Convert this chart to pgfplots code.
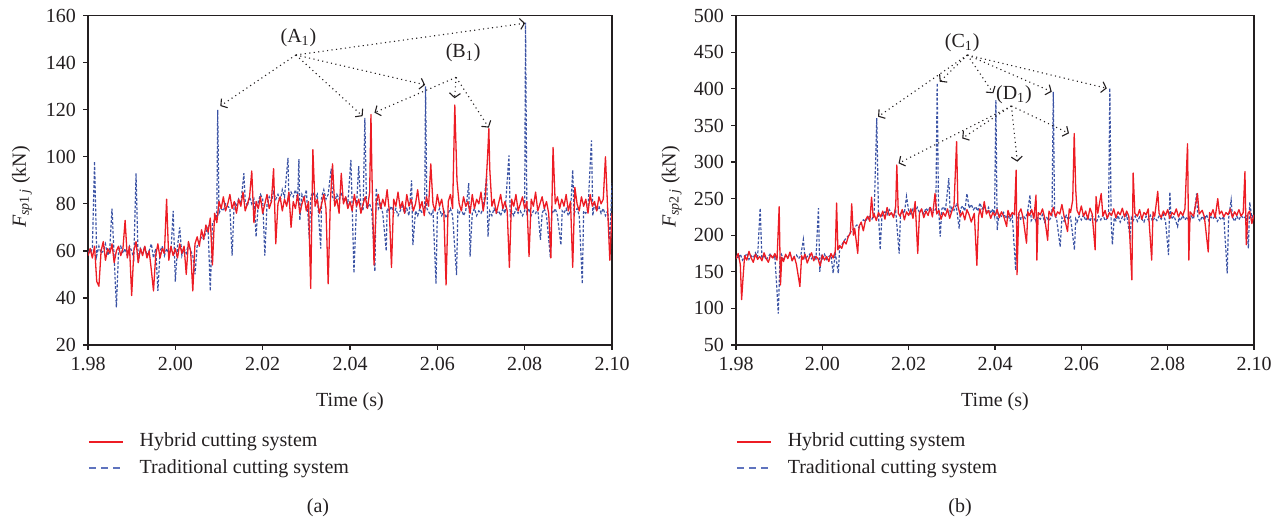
\documentclass[border=0pt]{standalone}
\usepackage{fontspec}
\setmainfont{Liberation Serif}
\usepackage{pgfplots}
\usepackage{pgfplotstable}
\pgfplotsset{compat=1.18}
\usetikzlibrary{arrows.meta}
\definecolor{hyb}{RGB}{237,28,36}
\definecolor{tra}{RGB}{59,83,164}
\definecolor{tralight}{RGB}{95,115,190}
\definecolor{ink}{RGB}{35,31,32}

\pgfplotstableread[row sep=\\]{
t f\\
1980 58\\1980.5 61\\1981 57\\1981.5 62\\1982 47\\1982.5 45\\1983 60\\1983.5 64\\1984 56\\1984.5 61\\
1985 59\\1985.5 63\\1986 55\\1986.5 60\\1987 62\\1987.5 58\\1988 61\\1988.5 73\\1989 57\\1989.5 62\\
1990 41\\1990.5 60\\1991 64\\1991.5 55\\1992 61\\1992.5 58\\1993 62\\1993.5 57\\1994 60\\1994.5 52\\
1995 43\\1995.5 58\\1996 63\\1996.5 57\\1997 61\\1997.5 59\\1998 82\\1998.5 56\\1999 62\\1999.5 58\\
2000 61\\2000.5 57\\2001 63\\2001.5 59\\2002 62\\2002.5 50\\2003 64\\2003.5 60\\2004 43\\2004.5 63\\
2005 66\\2005.5 62\\2006 69\\2006.5 65\\2007 71\\2007.5 68\\2008 74\\2008.5 54\\2009 76\\2009.5 72\\
2010 81\\2010.5 78\\2011 83\\2011.5 77\\2012 80\\2012.5 84\\2013 78\\2013.5 81\\2014 76\\2014.5 82\\
2015 79\\2015.5 85\\2016 77\\2016.5 80\\2017 83\\2017.5 94\\2018 72\\2018.5 81\\2019 78\\2019.5 83\\
2020 76\\2020.5 80\\2021 84\\2021.5 78\\2022 81\\2022.5 95\\2023 63\\2023.5 80\\2024 83\\2024.5 77\\
2025 82\\2025.5 79\\2026 85\\2026.5 70\\2027 81\\2027.5 78\\2028 84\\2028.5 76\\2029 80\\2029.5 83\\
2030 77\\2030.5 81\\2031 44\\2031.5 103\\2032 79\\2032.5 82\\2033 76\\2033.5 80\\2034 84\\2034.5 78\\
2035 46\\2035.5 81\\2036 97\\2036.5 79\\2037 82\\2037.5 76\\2038 93\\2038.5 80\\2039 83\\2039.5 78\\
2040 81\\2040.5 77\\2041 84\\2041.5 79\\2042 82\\2042.5 76\\2043 80\\2043.5 83\\2044 78\\2044.5 85\\
2044.8 118\\2045 95\\2045.5 54\\2046 81\\2046.5 84\\2047 78\\2047.5 82\\2048 79\\2048.5 86\\2049 77\\2049.5 53\\
2050 82\\2050.5 79\\2051 85\\2051.5 78\\2052 81\\2052.5 76\\2053 84\\2053.5 79\\2054 82\\2054.5 77\\
2055 80\\2055.5 86\\2056 78\\2056.5 81\\2057 75\\2057.5 83\\2058 79\\2058.5 97\\2059 80\\2059.5 77\\
2060 84\\2060.5 79\\2061 82\\2061.5 76\\2062 45.5\\2062.5 81\\2063 84\\2063.5 78\\2064 122\\2064.5 90\\
2065 80\\2065.5 77\\2066 83\\2066.5 79\\2067 81\\2067.5 76\\2068 84\\2068.5 78\\2069 82\\2069.5 80\\
2070 85\\2070.5 77\\2071 83\\2071.5 100\\2071.8 112\\2072 95\\2072.5 79\\2073 82\\2073.5 76\\2074 80\\2074.5 84\\
2075 78\\2075.5 81\\2076 77\\2076.5 53\\2077 82\\2077.5 79\\2078 84\\2078.5 77\\2079 80\\2079.5 83\\
2080 78\\2080.5 81\\2081 57.6\\2081.5 82\\2082 79\\2082.5 85\\2083 77\\2083.5 80\\2084 83\\2084.5 78\\
2085 81\\2085.5 76\\2086 57\\2086.5 104\\2087 80\\2087.5 83\\2088 78\\2088.5 82\\2089 79\\2089.5 84\\
2090 77\\2090.5 81\\2091 53\\2091.5 87\\2092 80\\2092.5 77\\2093 83\\2093.5 79\\2094 82\\2094.5 76\\
2095 84\\2095.5 79\\2096 81\\2096.5 77\\2097 83\\2097.5 80\\2098 82\\2098.5 100\\2099 78\\2099.5 56\\2100 76\\
}\LH

\pgfplotstableread[row sep=\\]{
t f\\
1980 60\\1980.5 59\\1981 61\\1981.5 98\\1982 58\\1982.5 62\\1983 59\\1983.5 60\\1984 63\\1984.5 58\\
1985 61\\1985.5 78\\1986 57\\1986.5 36\\1987 60\\1987.5 62\\1988 59\\1988.5 61\\1989 58\\1989.5 62\\
1990 60\\1990.5 57\\1991 93\\1991.5 55\\1992 61\\1992.5 59\\1993 62\\1993.5 58\\1994 60\\1994.5 63\\
1995 57\\1995.5 61\\1996 43\\1996.5 60\\1997 62\\1997.5 58\\1998 61\\1998.5 59\\1999 60\\1999.5 77\\
2000 47\\2000.5 62\\2001 70\\2001.5 58\\2002 61\\2002.5 59\\2003 63\\2003.5 60\\2004 58\\2004.5 50\\
2005 62\\2005.5 64\\2006 66\\2006.5 65\\2007 68\\2007.5 70\\2008 43\\2008.5 72\\2009 73\\2009.5 75\\
2009.7 120\\2010 76\\2010.5 78\\2011 77\\2011.5 80\\2012 79\\2012.5 78\\2013 58\\2013.5 81\\2014 79\\2014.5 82\\
2015 80\\2015.7 93\\2016 81\\2016.5 79\\2017 83\\2017.5 80\\2018 82\\2018.5 66\\2019 81\\2019.5 84\\
2020 82\\2020.5 58\\2021 80\\2021.5 83\\2022 81\\2022.5 85\\2023 82\\2023.5 84\\2024 81\\2024.5 86\\
2025 83\\2025.8 99.5\\2026 82\\2026.5 85\\2027 83\\2027.5 86\\2028 82\\2028.3 99\\2028.5 73\\2029 84\\2029.5 82\\
2030 86\\2030.7 65\\2031 83\\2031.5 85\\2032 82\\2032.5 84\\2033.3 61\\2033.5 83\\2034 86\\2034.5 82\\
2035 84\\2035.7 95\\2036 83\\2036.5 81\\2037 84\\2037.5 82\\2038 85\\2038.5 81\\2039 83\\2039.5 80\\
2040.2 98.7\\2040.5 79\\2040.9 50.6\\2041.5 80\\2042 96\\2042.5 79\\2043 77\\2043.4 116.5\\2043.8 78\\2044.5 80\\
2045 77\\2045.7 51.3\\2046 86.7\\2046.5 78\\2047 80\\2047.5 76\\2048.3 60\\2048.5 78\\2049 77\\2049.5 79\\
2050 76\\2050.5 78\\2051 75\\2051.5 77\\2052 79\\2052.5 76\\2053 78\\2053.5 75\\2054.1 90\\2054.4 62.5\\
2055 77\\2055.5 75\\2056 78\\2056.5 76\\2057.1 77\\2057.3 130\\2057.6 78\\2058.5 75\\2059 77\\2059.7 46\\
2060 76\\2060.5 78\\2061 75\\2061.5 77\\2062 74\\2062.5 76\\2063 78\\2063.5 75\\2064.4 49.7\\2064.7 77\\
2065 76\\2065.5 78\\2066 75\\2066.5 77\\2067.2 88.8\\2067.5 57.6\\2068 76\\2068.5 78\\2069 75\\2069.5 77\\
2070 76\\2070.5 78\\2071.3 92\\2071.6 66\\2072 77\\2072.5 75\\2073 78\\2073.5 76\\2074 77\\2074.5 75\\
2075 78\\2075.5 76\\2076.4 100.6\\2076.7 74\\2077 77\\2077.5 75\\2078 78\\2078.5 76\\2079 77\\2079.5 75\\
2080 77\\2080.2 157\\2080.5 76\\2081 78\\2081.5 75\\2082 77\\2082.5 76\\2083 78\\2083.6 64.7\\2084 76\\2084.5 78\\
2085 75\\2085.9 57\\2086.2 77\\2086.5 76\\2087 78\\2087.5 75\\2088.3 62.5\\2088.6 77\\2089 76\\2089.5 78\\
2090 75\\2090.5 77\\2091 94.4\\2091.3 76\\2092 78\\2092.5 75\\2093.2 46\\2093.5 77\\2094 76\\2094.5 78\\
2095.3 107\\2095.6 75\\2096 80\\2096.5 77\\2097 79\\2097.5 76\\2098 78\\2098.5 75\\2099 77\\2099.5 64.7\\2100 88.8\\
}\LT

\pgfplotstableread[row sep=\\]{
t f\\
1980 168\\1980.5 175\\1981 160\\1981.3 112\\1981.7 148\\1982 172\\1982.5 166\\1983 178\\1983.5 169\\1984 163\\1984.5 174\\
1985 167\\1985.5 171\\1986 165\\1986.5 176\\1987 168\\1987.5 163\\1988 173\\1988.5 169\\1989 175\\1989.5 166\\
1990 239\\1990.3 132\\1990.6 170\\1991 164\\1991.5 174\\1992 168\\1992.5 177\\1993 165\\1993.5 171\\1994 160\\
1994.8 130\\1995.2 172\\1995.5 167\\1996 174\\1996.5 162\\1997 170\\1997.5 176\\1998 165\\1998.5 171\\1999 168\\1999.5 158\\
2000 173\\2000.5 166\\2001 171\\2001.5 164\\2002 175\\2002.5 169\\2003 178\\2003.3 244\\2003.6 180\\2004 186\\2004.5 182\\
2005 192\\2005.5 188\\2006 198\\2006.5 203\\2006.8 243\\2007.2 200\\2007.5 209\\2008.2 175\\2008.5 212\\2009 218\\2009.5 206\\
2010 221\\2010.5 226\\2011 219\\2011.4 252\\2011.8 224\\2012 229\\2012.5 220\\2013 231\\2013.5 225\\2014 233\\2014.5 222\\
2015 238\\2015.5 227\\2016 231\\2016.5 224\\2017 240\\2017.25 296\\2017.6 230\\2018 226\\2018.5 235\\2019 221\\2019.5 232\\
2020 227\\2020.5 236\\2021 223\\2021.5 246\\2022.1 175\\2022.5 230\\2023 236\\2023.5 224\\2024 233\\2024.5 227\\
2025 238\\2025.5 225\\2026.1 257\\2026.5 229\\2027 234\\2027.5 222\\2028 231\\2028.5 226\\2029 236\\2029.5 223\\
2030 233\\2030.5 240\\2031.1 328\\2031.4 240\\2032 226\\2032.5 232\\2033 221\\2033.5 235\\2034 228\\2034.5 218\\
2035.2 230\\2035.8 159\\2036.2 226\\2036.5 236\\2037 224\\2037.5 246\\2038 229\\2038.5 234\\2039 223\\2039.5 231\\
2040 227\\2040.5 235\\2041 224\\2041.5 232\\2042 226\\2042.7 212\\2043 234\\2043.5 225\\2044 231\\2044.5 228\\
2044.9 289\\2045.1 146\\2045.5 230\\2046 236\\2046.5 224\\2047.3 189\\2047.6 232\\2048 227\\2048.5 235\\2049 223\\2049.5 255\\
2049.7 166\\2050 231\\2050.5 228\\2051 236\\2051.5 224\\2052.2 193\\2052.5 233\\2053 227\\2053.5 238\\2054 225\\2054.5 232\\
2055 229\\2055.5 242\\2056 226\\2056.8 205\\2057.2 236\\2057.5 231\\2058 248\\2058.35 339\\2058.7 262\\2059 234\\2059.5 228\\
2060 240\\2060.5 226\\2061 233\\2061.5 222\\2062 237\\2062.5 229\\2063.2 180\\2063.4 253\\2063.8 230\\2064.6 257\\
2065 226\\2065.5 234\\2066 223\\2066.5 231\\2067 227\\2067.5 236\\2068 224\\2068.5 232\\2069 228\\2069.5 237\\
2070 225\\2070.5 233\\2071 226\\2071.7 139\\2072 285\\2072.4 230\\2073 226\\2073.5 235\\2074 222\\2074.5 231\\
2075 228\\2075.5 236\\2076.3 166\\2076.6 232\\2077 226\\2077.7 260\\2078 230\\2078.5 224\\2079 233\\2079.5 227\\
2080 235\\2080.5 223\\2081 231\\2081.5 228\\2082 236\\2082.5 225\\2083 232\\2083.5 227\\2084 236\\2084.6 325\\
2084.9 166\\2085.2 232\\2086 226\\2086.9 257\\2087.3 229\\2088 234\\2088.5 225\\2089.4 177\\2089.7 231\\
2090 227\\2090.5 235\\2091 224\\2091.6 250\\2092 229\\2092.5 233\\2093 225\\2093.5 231\\2094 228\\2094.5 236\\
2095 224\\2095.5 232\\2096 227\\2096.5 235\\2097 226\\2097.5 231\\2097.9 287\\2098.2 187\\2098.6 230\\2099 233\\2099.5 216\\2100 228\\
}\RH

\pgfplotstableread[row sep=\\]{
t f\\
1980 172\\1980.5 168\\1981 174\\1981.5 166\\1982 171\\1982.5 175\\1983 167\\1983.5 172\\1984 169\\1984.5 176\\
1985 170\\1985.6 237\\1986 168\\1986.5 173\\1987 166\\1987.5 171\\1988 175\\1988.5 168\\1989 172\\1989.8 93\\
1990.2 170\\1990.5 174\\1991 167\\1991.5 172\\1992 169\\1992.5 175\\1993 166\\1993.5 171\\1994 173\\1994.5 168\\
1995 172\\1995.6 194\\1996 167\\1996.5 171\\1997 174\\1997.5 168\\1998 172\\1998.5 166\\1999.1 237\\1999.4 150\\1999.8 171\\
2000 168\\2000.5 174\\2001 167\\2001.5 171\\2002 173\\2002.5 148\\2003 176\\2003.7 148\\2004 183\\2004.5 187\\
2005 192\\2005.5 196\\2006 199\\2006.5 204\\2007 207\\2007.5 211\\2008 214\\2008.5 210\\2009 217\\2009.5 221\\
2010 219\\2010.5 224\\2011 226\\2011.5 222\\2012 229\\2012.6 360\\2013 231\\2013.4 180\\2013.8 226\\2014.5 232\\
2015 228\\2015.5 235\\2016 230\\2016.5 226\\2017 233\\2017.8 175\\2018.1 228\\2018.5 234\\2019 230\\2019.5 253\\
2020 233\\2020.5 229\\2021 236\\2021.5 232\\2022 238\\2022.5 231\\2023 235\\2023.5 229\\2024 237\\2024.5 233\\
2025 239\\2025.5 230\\2026.3 236\\2026.6 408\\2026.9 240\\2027.3 198\\2027.7 236\\2028 239\\2028.5 233\\2029.3 278\\2029.6 232\\
2030 238\\2030.5 234\\2031 241\\2031.7 209\\2032 236\\2032.5 240\\2033 233\\2033.5 257\\2034 237\\2034.5 242\\
2035 235\\2035.5 239\\2036 233\\2036.5 244\\2037 236\\2037.5 240\\2038 232\\2038.5 238\\2039 230\\2039.5 236\\
2039.9 226\\2040.2 385\\2040.5 207\\2040.9 230\\2041.5 226\\2042 231\\2042.5 223\\2043 228\\2043.5 220\\2044 226\\
2044.8 152\\2045.1 224\\2045.5 229\\2046 221\\2046.5 227\\2047 223\\2047.5 230\\2048.1 255\\2048.4 220\\2049 226\\2049.5 219\\
2050 225\\2050.5 222\\2051 228\\2051.5 218\\2052 224\\2052.5 220\\2053.2 226\\2053.5 396\\2053.8 230\\2054.3 221\\
2055.1 184\\2055.5 224\\2056 219\\2056.5 227\\2057 221\\2057.5 225\\2058.4 180\\2058.7 222\\2059 218\\2059.5 226\\
2060 221\\2060.5 228\\2061 220\\2061.5 225\\2062 219\\2062.5 227\\2063 222\\2063.5 218\\2064 226\\2064.5 221\\
2065 228\\2065.5 220\\2066.3 225\\2066.6 401\\2066.9 219\\2067.2 187\\2067.6 224\\2068 220\\2068.5 227\\2069 218\\2069.5 225\\
2070 221\\2070.5 228\\2071.3 198\\2071.6 224\\2072 220\\2072.5 226\\2073 219\\2073.5 225\\2074 222\\2074.5 218\\
2075 226\\2075.5 221\\2076 227\\2076.5 219\\2077 224\\2077.5 220\\2078 226\\2078.5 222\\2079 228\\2079.5 219\\
2080.2 173\\2080.5 259\\2080.8 222\\2081.5 226\\2082.3 212\\2082.6 224\\2083 220\\2083.5 227\\2084 221\\2084.5 225\\
2085 219\\2085.5 226\\2086 222\\2086.7 257\\2087 224\\2087.5 219\\2088 226\\2088.5 221\\2089 228\\2089.5 220\\
2090 225\\2090.5 222\\2091 227\\2091.5 219\\2092 224\\2092.5 221\\2093 226\\2093.8 148\\2094.1 222\\2094.7 248\\
2095 225\\2095.5 219\\2096 226\\2096.5 221\\2097 227\\2097.5 223\\2098.2 226\\2098.7 182\\2099 245\\2099.5 224\\2100 229\\
}\RT

\tikzset{
  ann/.style={ink, line width=0.55pt, dash pattern=on 0.55pt off 1.7pt,
    -{Straight Barb[length=2.2pt,width=5.5pt]}},
  annlab/.style={font=\fontsize{10}{12}\selectfont, text=ink},
}

\pgfplotsset{
  fig/.style={
    scale only axis, height=164.65pt,
    xmin=1980, xmax=2100,
    xtick={1980,2000,2020,2040,2060,2080,2100},
    xticklabels={1.98,2.00,2.02,2.04,2.06,2.08,2.10},
    tick align=outside, tick pos=left, major tick length=2.5pt,
    axis line style={ink, line width=0.6pt},
    every tick/.style={ink, line width=0.6pt},
    ticklabel style={font=\fontsize{10}{12}\selectfont, text=ink},
    /pgf/number format/assume math mode=true,
    xlabel={Time (s)},
    label style={font=\fontsize{10}{12}\selectfont, text=ink},
    xlabel style={at={(axis description cs:0.5,-0.173)}, anchor=center},
    ylabel style={at={(axis description cs:-0.126,0.48)}, anchor=center},
    legend style={at={(axis description cs:-0.012,-0.334)}, anchor=west, draw=none, fill=none,
      font=\fontsize{10}{12}\selectfont, text=ink, nodes={inner sep=0pt, text height=7pt, text depth=2pt},
      row sep=4.2pt, /tikz/every odd column/.append style={column sep=8pt}},
    legend cell align=left,
    reverse legend,
  },
  hybplot/.style={color=hyb, line width=0.65pt, no marks, line join=round,
    legend image code/.code={\draw[color=hyb, line width=0.8pt, solid] (0pt,0pt) -- (17pt,0pt);}},
  traplot/.style={color=tra, line width=0.6pt, no marks, dash pattern=on 1.4pt off 0.9pt,
    legend image code/.code={\draw[color=tralight, line width=0.7pt, dash pattern=on 3.5pt off 2.6pt] (0pt,0pt) -- (17pt,0pt);}},
}

\begin{document}
\begin{tikzpicture}
\path[use as bounding box] (0pt,0pt) rectangle (641.5pt,261.5pt);

\begin{axis}[fig, at={(44pt,89pt)}, anchor=south west, width=262pt,
  ymin=20, ymax=160, ytick={20,40,...,160},
  ylabel={\textit{F}\textsubscript{\textit{sp}1\,\textit{j}} (kN)}]
\addplot[traplot] table[x=t,y=f]{\LT};
\addlegendentry{Traditional cutting system}
\addplot[hybplot] table[x=t,y=f]{\LH};
\addlegendentry{Hybrid cutting system}
\node[annlab] at (axis cs:2028.2,150.6) {(A\textsubscript{1})};
\draw[ann] (axis cs:2027.6,143.3) -- (axis cs:2010.3,121.6);
\draw[ann] (axis cs:2027.6,143.3) -- (axis cs:2042.9,117.3);
\draw[ann] (axis cs:2027.6,143.3) -- (axis cs:2057.2,130.6);
\draw[ann] (axis cs:2027.6,143.3) -- (axis cs:2080.1,156.8);
\node[annlab] at (axis cs:2065.9,144.2) {(B\textsubscript{1})};
\draw[ann] (axis cs:2064.3,133.8) -- (axis cs:2045.6,118.8);
\draw[ann] (axis cs:2064.3,133.8) -- (axis cs:2063.95,124.9);
\draw[ann] (axis cs:2064.3,133.8) -- (axis cs:2071.8,112.4);
\end{axis}

\begin{axis}[fig, at={(368pt,89pt)}, anchor=south west, width=259pt,
  ymin=50, ymax=500, ytick={50,100,...,500},
  ylabel style={at={(axis description cs:-0.124,0.48)}},
  ylabel={\textit{F}\textsubscript{\textit{sp}2\,\textit{j}} (kN)}]
\addplot[traplot] table[x=t,y=f]{\RT};
\addlegendentry{Traditional cutting system}
\addplot[hybplot] table[x=t,y=f]{\RH};
\addlegendentry{Hybrid cutting system}
\node[annlab] at (axis cs:2032.4,463.5) {(C\textsubscript{1})};
\draw[ann] (axis cs:2033.6,446.3) -- (axis cs:2012.9,362);
\draw[ann] (axis cs:2033.6,446.3) -- (axis cs:2027.2,409.8);
\draw[ann] (axis cs:2033.6,446.3) -- (axis cs:2039.6,394);
\draw[ann] (axis cs:2033.6,446.3) -- (axis cs:2053.15,396.1);
\draw[ann] (axis cs:2033.6,446.3) -- (axis cs:2065.9,400.8);
\node[annlab] at (axis cs:2044.4,391.6) {(D\textsubscript{1})};
\draw[ann] (axis cs:2043.8,376.6) -- (axis cs:2017.65,298.3);
\draw[ann] (axis cs:2043.8,376.6) -- (axis cs:2032.4,332.4);
\draw[ann] (axis cs:2043.8,376.6) -- (axis cs:2045.17,300.5);
\draw[ann] (axis cs:2043.8,376.6) -- (axis cs:2057.14,339.2);
\end{axis}

\node[annlab] at (159pt,7.5pt) {(a)};
\node[annlab] at (480pt,7.5pt) {(b)};
\end{tikzpicture}
\end{document}
